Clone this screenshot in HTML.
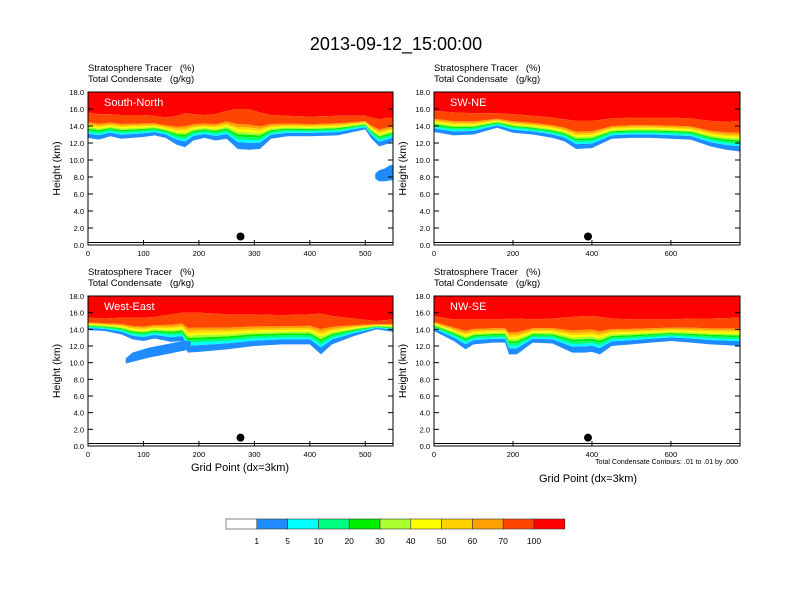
<!DOCTYPE html>
<html><head><meta charset="utf-8"><style>
body{margin:0;background:#fff}
svg{display:block;font-family:"Liberation Sans",sans-serif}
</style></head><body>
<svg id="c" width="792" height="612" viewBox="0 0 792 612">
<text x="396" y="50" font-size="18" text-anchor="middle">2013-09-12_15:00:00</text>
</svg>
<script>
const colors=["#ffffff","#1e8cff","#00ffff","#00ff80","#00ee00","#aaff2e","#ffff00","#ffd200","#ffa000","#ff4600","#ff0000"];
const cbLabels=["1","5","10","20","30","40","50","60","70","100"];
const panelNames=["South-North","SW-NE","West-East","NW-SE"];
const xMaxes=[550,775,550,775];
const xTicks1=[0,100,200,300,400,500];
const xTicks2=[0,200,400,600];
const yTicks=[0,2,4,6,8,10,12,14,16,18];
const p1x=[0,20,40,60,80,100,120,140,160,175,190,210,230,250,270,290,310,330,360,400,450,500,510,525,540,550];
const p1base=[12.6,12.4,12.8,12.5,12.6,12.7,12.9,12.6,11.8,11.5,12.3,12.6,12.3,12.5,11.3,11.2,11.3,12.5,12.8,12.8,12.9,13.6,12.6,11.6,11.9,12.2];
const p1top=[15.6,15.4,15.4,15.3,15.3,15.3,15.2,15.0,15.2,15.5,15.4,15.3,15.4,15.8,16.0,16.0,15.6,15.3,15.2,15.1,15.2,15.2,15.0,14.8,15.0,15.0];
const p2x=[0,50,100,160,200,250,300,330,360,400,450,500,550,600,650,700,740,775];
const p2base=[13.3,12.9,13.0,13.8,13.2,13.0,12.6,12.2,11.3,11.4,12.5,12.6,12.6,12.5,12.4,11.6,11.2,11.0];
const p2top=[15.8,15.6,15.5,15.5,15.4,15.2,15.0,14.8,14.6,14.6,14.9,15.0,15.0,15.0,14.9,14.6,14.5,14.6];
const p3x=[0,30,60,80,100,120,150,170,180,200,250,300,350,400,420,440,480,520,550];
const p3base=[13.9,13.8,13.4,12.8,12.6,12.9,12.5,12.6,11.2,11.3,11.6,12.0,12.2,12.2,11.0,12.2,13.2,14.0,13.7];
const p3top=[15.4,15.3,15.4,15.4,15.4,15.5,15.8,16.0,16.0,16.0,15.8,15.8,15.7,15.8,15.9,15.6,15.3,15.0,15.2];
const p4x=[0,50,80,100,150,180,190,210,250,300,350,380,400,420,450,500,550,600,650,700,775];
const p4base=[13.8,12.6,11.6,12.2,12.4,12.4,11.0,11.0,12.4,12.3,11.2,11.2,11.3,11.0,12.0,12.2,12.4,12.6,12.4,12.2,12.0];
const p4top=[15.6,15.2,15.2,15.2,15.2,15.2,15.3,15.3,15.2,15.3,15.5,15.6,15.6,15.5,15.3,15.2,15.2,15.2,15.3,15.3,15.4];
const blobPanel=[0,2];
const blobX=[[518,525,535,545,550],[68,80,110,140,170,185]];
const blobLo=[[7.8,7.5,7.5,7.6,7.6],[9.9,10.1,10.6,11.0,11.4,11.6]];
const blobHi=[[8.4,8.8,9.0,9.4,9.4],[10.5,11.2,11.8,12.2,12.6,12.6]];
const dotX=[275,390,275,390];
const dotY=[1.0,1.0,1.0,1.0];
const bandFrac=[0.17,0.07,0.07,0.06,0.06,0.06,0.06,0.07,0.38];
const NS="http://www.w3.org/2000/svg";
const svg=document.getElementById('c');
function mk(t,a,p){const e=document.createElementNS(NS,t);for(const k in a)e.setAttribute(k,a[k]);(p||svg).appendChild(e);return e;}
const boxes=[{x0:88,x1:393,y0:245,y1:92},{x0:434,x1:740,y0:245,y1:92},{x0:88,x1:393,y0:446,y1:296},{x0:434,x1:740,y0:446,y1:296}];
const data=[[p1x,p1base,p1top],[p2x,p2base,p2top],[p3x,p3base,p3top],[p4x,p4base,p4top]];
boxes.forEach((b,i)=>{
  const sx=v=>b.x0+(b.x1-b.x0)*v/xMaxes[i];
  const sy=v=>b.y0+(b.y1-b.y0)*v/18;
  const g=mk('g',{});
  
  
  const [xs,base,top]=data[i];
  let pts=xs.map((x,j)=>sx(x)+','+sy(top[j])).join(' ');
  const red=mk('polygon',{points:sx(0)+','+sy(18)+' '+pts+' '+sx(xMaxes[i])+','+sy(18),fill:colors[10]},g);
  
  
  let cum=0;
  for(let k=0;k<9;k++){
    const f0=cum,f1=cum+bandFrac[k];cum=f1;
    const lo=xs.map((x,j)=>sx(x)+','+sy(base[j]+(top[j]-base[j])*f0));
    const hi=xs.map((x,j)=>sx(x)+','+sy(base[j]+(top[j]-base[j])*f1)).reverse();
    const p=mk('polygon',{points:lo.concat(hi).join(' '),fill:colors[k+1]},g);
    
    
  }
  blobPanel.forEach((pi,bi)=>{
    if(pi!==i)return;
    const lo=blobX[bi].map((x,j)=>sx(x)+','+sy(blobLo[bi][j]));
    const hi=blobX[bi].map((x,j)=>sx(x)+','+sy(blobHi[bi][j])).reverse();
    const p=mk('polygon',{points:lo.concat(hi).join(' '),fill:colors[1]},g);
    
    
  });
  const gl=mk('line',{x1:b.x0,x2:b.x1,y1:sy(0.3),y2:sy(0.3),stroke:'#000','stroke-width':1},g);
  
  
  const d=mk('circle',{cx:sx(dotX[i]),cy:sy(dotY[i]),r:4,fill:'#000'},g);
  
  
  const fr=mk('rect',{x:b.x0,y:b.y1,width:b.x1-b.x0,height:b.y0-b.y1,fill:'none',stroke:'#000','stroke-width':1},g);
  
  
  yTicks.forEach(t=>{
    mk('line',{x1:b.x0,x2:b.x0+5,y1:sy(t),y2:sy(t),stroke:'#000'},g);
    mk('line',{x1:b.x1,x2:b.x1-5,y1:sy(t),y2:sy(t),stroke:'#000'},g);
    const tl=mk('text',{x:b.x0-4,y:sy(t)+3,'font-size':7.5,'text-anchor':'end'},g);
    tl.textContent=t.toFixed(1);
    
    
  });
  (xMaxes[i]>600?xTicks2:xTicks1).forEach(t=>{
    mk('line',{x1:sx(t),x2:sx(t),y1:b.y0,y2:b.y0-5,stroke:'#000'},g);
    const tl=mk('text',{x:sx(t),y:b.y0+11,'font-size':7.5,'text-anchor':'middle'},g);
    tl.textContent=t;
    
    
  });
  const nm=mk('text',{x:b.x0+16,y:b.y1+14,'font-size':11,fill:'#fff'},g);
  nm.textContent=panelNames[i];
  
  
  const s1=mk('text',{x:b.x0,y:b.y1-21,'font-size':9.5},g);
  s1.textContent='Stratosphere Tracer   (%)';s1.style.whiteSpace='pre';
  
  
  const s2=mk('text',{x:b.x0,y:b.y1-10,'font-size':9.5},g);
  s2.textContent='Total Condensate   (g/kg)';s2.style.whiteSpace='pre';
  
  
  const yt=mk('text',{transform:'translate('+(b.x0-28)+','+((b.y0+b.y1)/2)+') rotate(-90)','font-size':10.5,'text-anchor':'middle'},g);
  yt.textContent='Height (km)';
  
  
});
</script>
<div style="position:absolute;left:0;top:0">
<svg width="792" height="612" style="position:absolute;left:0;top:0">
<text x="240" y="471" font-size="11" text-anchor="middle" font-family="Liberation Sans,sans-serif">Grid Point (dx=3km)</text>
<text x="588" y="482" font-size="11" text-anchor="middle" font-family="Liberation Sans,sans-serif">Grid Point (dx=3km)</text>
<text x="738" y="464" font-size="7" text-anchor="end" font-family="Liberation Sans,sans-serif">Total Condensate Contours: .01 to .01 by .000</text>
<g id="cb"></g>
</svg></div>
<script>
const cb=document.getElementById('cb');
const cbx0=226,cbw=30.8;
colors.forEach((c,k)=>{
  const r=document.createElementNS(NS,'rect');
  r.setAttribute('x',cbx0+k*cbw);r.setAttribute('y',519);r.setAttribute('width',cbw);r.setAttribute('height',10);
  r.setAttribute('fill',c);r.setAttribute('stroke','#333');r.setAttribute('stroke-width','0.6');
  
  
  cb.appendChild(r);
});
cbLabels.forEach((l,k)=>{
  const t=document.createElementNS(NS,'text');
  t.setAttribute('x',cbx0+(k+1)*cbw);t.setAttribute('y',544);t.setAttribute('font-size','8.5');
  t.setAttribute('text-anchor','middle');t.setAttribute('font-family','Liberation Sans,sans-serif');
  t.textContent=l;
  
  
  cb.appendChild(t);
});
</script>
</body></html>
